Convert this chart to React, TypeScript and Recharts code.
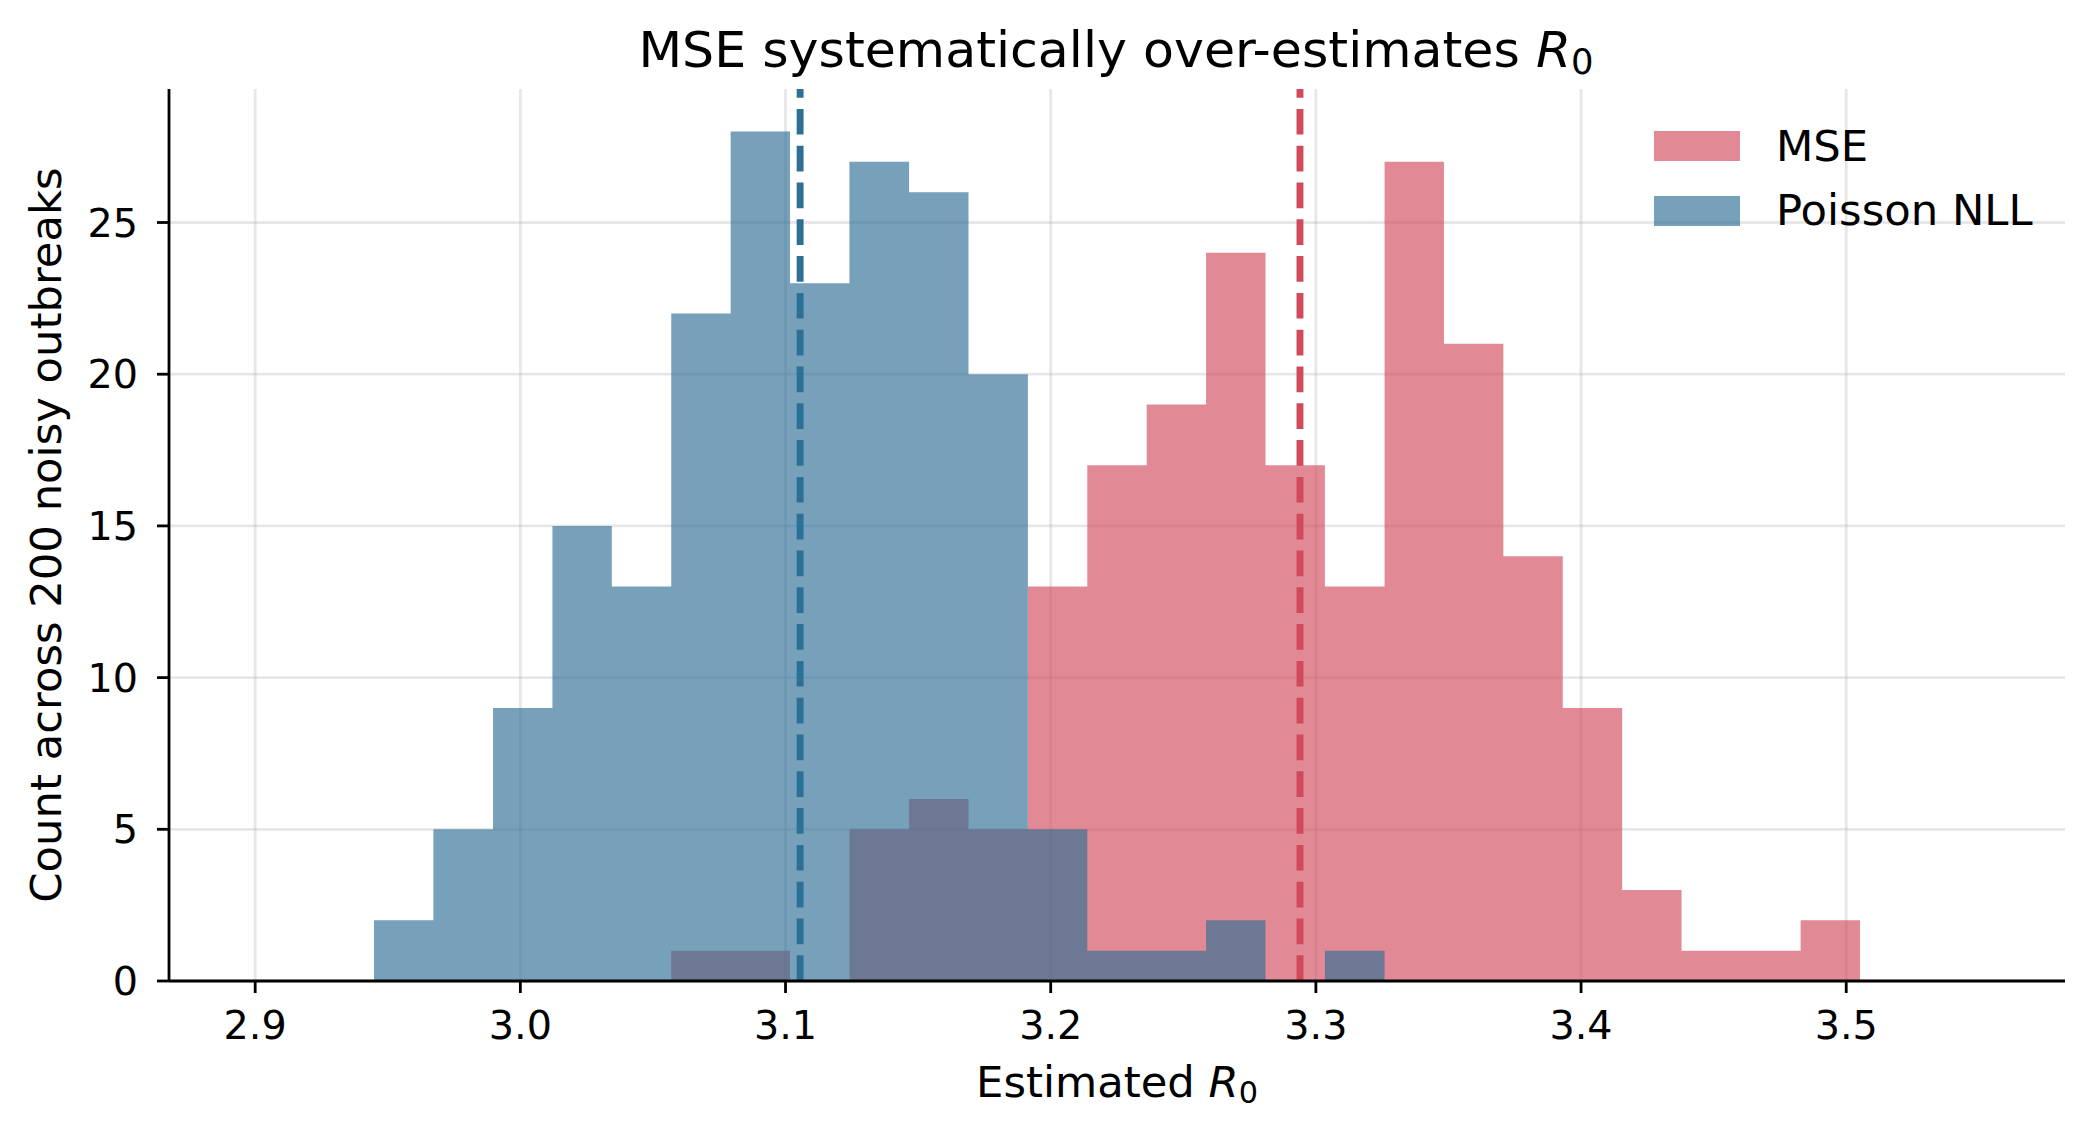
import { ComposedChart, Area, XAxis, YAxis, CartesianGrid, ReferenceLine, Legend } from 'recharts'

// histogram bin edges (29 bins, 2.90 .. 3.55)
const BIN_EDGES = [
  2.9, 2.9224, 2.9448, 2.9672, 2.9897, 3.0121, 3.0345, 3.0569, 3.0793, 3.1017,
  3.1241, 3.1466, 3.169, 3.1914, 3.2138, 3.2362, 3.2586, 3.281, 3.3034, 3.3259,
  3.3483, 3.3707, 3.3931, 3.4155, 3.4379, 3.4603, 3.4828, 3.5052, 3.5276, 3.55,
]

// counts per bin
const MSE_COUNTS = [0, 0, 0, 0, 0, 0, 0, 1, 1, 0, 5, 6, 5, 13, 17, 19, 24, 17, 13, 27, 21, 14, 9, 3, 1, 1, 2, 0, 0]
const POISSON_COUNTS = [0, 0, 2, 5, 9, 15, 13, 22, 28, 23, 27, 26, 20, 5, 1, 1, 2, 0, 1, 0, 0, 0, 0, 0, 0, 0, 0, 0, 0]

const MSE_MEAN = 3.294
const POISSON_MEAN = 3.1055

const X_TICKS = [2.9, 3.0, 3.1, 3.2, 3.3, 3.4, 3.5]
const Y_TICKS = [0, 5, 10, 15, 20, 25]

const SERIES = [
  { key: 'mse', name: 'MSE', color: '#d1495b' },
  { key: 'poisson', name: 'Poisson NLL', color: '#2e6f95' },
]

const FONT = '"DejaVu Sans", sans-serif'
const ALPHA = 0.65
const TICK_FS = 39.7
const LABEL_FS = 43.3
const TITLE_FS = 50.6

const data = BIN_EDGES.map((edge, i) => ({
  edge,
  mse: MSE_COUNTS[i] ?? 0,
  poisson: POISSON_COUNTS[i] ?? 0,
}))

function renderLegend(props: any) {
  const payload = [...(props.payload || [])].sort(
    (a: any, b: any) => SERIES.findIndex(s => s.name === a.value) - SERIES.findIndex(s => s.name === b.value)
  )
  return (
    <svg width={420} height={130} style={{ display: 'block' }}>
      {payload.map((entry: any, i: number) => {
        const s = SERIES.find(x => x.name === entry.value)
        return (
          <g key={entry.value}>
            <rect x={14} y={11 + i * 65} width={86} height={30} fill={s?.color} fillOpacity={ALPHA} />
            <text x={136} y={41 + i * 64} fontSize={LABEL_FS} fontFamily={FONT} fill="#000">{entry.value}</text>
          </g>
        )
      })}
    </svg>
  )
}

export default function App() {
  return (
    <div style={{ width: 2094, height: 1137, fontFamily: FONT, background: '#fff' }}>
      <style>{'body { margin: 0; }'}</style>
      <ComposedChart
        width={2094}
        height={1137}
        data={data}
        margin={{ top: 89, right: 29, bottom: 0, left: 0 }}
      >
        <XAxis
          dataKey="edge"
          type="number"
          domain={[2.8675, 3.5825]}
          allowDataOverflow
          ticks={X_TICKS}
          tickFormatter={(v: number) => v.toFixed(1)}
          height={156}
          tickSize={12}
          tickMargin={18}
          axisLine={{ stroke: '#000', strokeWidth: 2.8 }}
          tickLine={{ stroke: '#000', strokeWidth: 2.8 }}
          tick={{ fill: '#000', fontSize: TICK_FS, fontFamily: FONT }}
          label={{
            content: (p: any) => {
              const vb = p.viewBox || { x: 169, y: 981, width: 1896 }
              return (
                <text x={vb.x + vb.width / 2} y={vb.y + 116} textAnchor="middle" fontSize={LABEL_FS} fontFamily={FONT} fill="#000">
                  {'Estimated '}
                  <tspan fontStyle="italic">R</tspan>
                  <tspan fontSize={30.3} dy={6}>0</tspan>
                </text>
              )
            },
          }}
        />
        <YAxis
          type="number"
          domain={[0, 29.4]}
          allowDataOverflow
          ticks={Y_TICKS}
          width={169}
          tickSize={12}
          tickMargin={19}
          axisLine={{ stroke: '#000', strokeWidth: 2.8 }}
          tickLine={{ stroke: '#000', strokeWidth: 2.8 }}
          tick={{ fill: '#000', fontSize: TICK_FS, fontFamily: FONT }}
          label={{
            content: (p: any) => {
              const vb = p.viewBox || { x: 0, y: 89, height: 892 }
              const cx = vb.x + 61
              const cy = vb.y + vb.height / 2
              return (
                <text x={cx} y={cy} transform={`rotate(-90, ${cx}, ${cy})`} textAnchor="middle" fontSize={LABEL_FS} fontFamily={FONT} fill="#000">
                  Count across 200 noisy outbreaks
                </text>
              )
            },
          }}
        />
        {SERIES.map(s => (
          <Area
            key={s.key}
            type="stepAfter"
            dataKey={s.key}
            name={s.name}
            stroke="none"
            fill={s.color}
            fillOpacity={ALPHA}
            dot={false}
            activeDot={false}
            isAnimationActive={false}
          />
        ))}
        <CartesianGrid
          stroke="#b0b0b0"
          strokeOpacity={0.3}
          strokeWidth={2.8}
          syncWithTicks
          horizontalValues={Y_TICKS}
          verticalValues={X_TICKS}
        />
        <ReferenceLine x={POISSON_MEAN} stroke="#2e6f95" strokeWidth={6.9} strokeDasharray="25.7 11.1" />
        <ReferenceLine x={MSE_MEAN} stroke="#d1495b" strokeWidth={6.9} strokeDasharray="25.7 11.1" />
        <Legend
          layout="vertical"
          align="center"
          verticalAlign="middle"
          width={420}
          wrapperStyle={{ top: 120, left: 1640, width: 420, height: 130 }}
          content={renderLegend}
        />
        <text x={1116} y={66.5} textAnchor="middle" fontSize={TITLE_FS} fontFamily={FONT} fill="#000">
          {'MSE systematically over-estimates '}
          <tspan fontStyle="italic">R</tspan>
          <tspan fontSize={35.4} dy={7}>0</tspan>
        </text>
      </ComposedChart>
    </div>
  )
}
